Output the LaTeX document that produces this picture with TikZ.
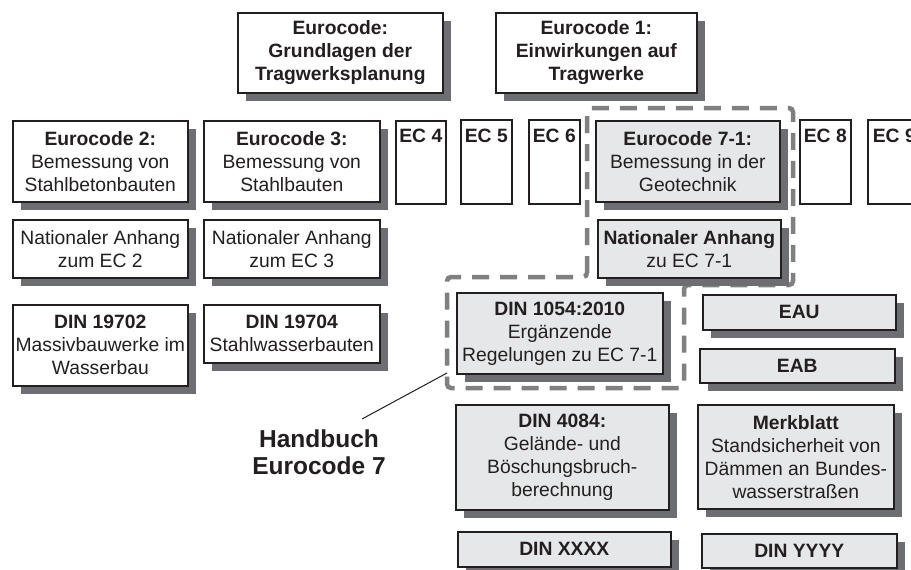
\documentclass[tikz,border=0pt]{standalone}
\usepackage{fontspec}
\setmainfont{Liberation Sans}
\usetikzlibrary{shadows}
\definecolor{shd}{HTML}{6D6E71}
\definecolor{lgray}{HTML}{E6E7E8}
\definecolor{dgray}{HTML}{808080}
\definecolor{ink}{HTML}{231F20}
\tikzset{
 box/.style={draw=ink, text=ink, line width=1.6pt, fill=white, align=center, inner sep=0pt,
   font=\fontsize{19.3}{23}\selectfont},
 sbox/.style={box, general shadow={fill=shd, shadow xshift=8pt, shadow yshift=-8pt}},
 gbox/.style={sbox, fill=lgray},
 dashbox/.style={draw=dgray, line width=4.5pt, dash pattern=on 17pt off 11pt, rounded corners=4pt},
 lead/.style={draw=ink, line width=1pt},
 hbtext/.style={text=ink, align=center, font=\fontsize{24.5}{27}\selectfont\bfseries},
}
\newcommand\ebox[7]{\node[#1, anchor=north west, minimum width={(#5-#3)*1pt}, minimum height={(#6-#4)*1pt}] (#2) at (#3,#4) {#7};}
\begin{document}
\begin{tikzpicture}[x=1pt,y=-1pt]
\useasboundingbox (0,0) rectangle (911,570);
\clip (0,0) rectangle (911,570);
% dashed frame
\draw[dashbox] (587,277) -- (587,108) -- (793,108) -- (793,285) -- (684,285) -- (684,388) -- (447,388) -- (447,277) -- cycle;
% top row
\ebox{sbox}{g0}{237}{12}{442}{92}{\textbf{Eurocode:}\\\textbf{Grundlagen der}\\\textbf{Tragwerksplanung}}
\ebox{sbox}{e1}{495}{12}{696}{92}{\textbf{Eurocode 1:}\\\textbf{Einwirkungen auf}\\\textbf{Tragwerke}}
% eurocode row
\ebox{sbox}{e2}{12}{120}{187}{201}{\textbf{Eurocode 2:}\\Bemessung von\\Stahlbetonbauten}
\ebox{sbox}{e3}{203}{120}{379}{201}{\textbf{Eurocode 3:}\\Bemessung von\\Stahlbauten}
\ebox{box}{ec4}{395}{120}{445}{203}{\textbf{EC 4}\\\strut\\\strut}
\ebox{box}{ec5}{460}{119}{511}{203}{\textbf{EC 5}\\\strut\\\strut}
\ebox{box}{ec6}{528}{119}{579}{203}{\textbf{EC 6}\\\strut\\\strut}
\ebox{gbox}{e7}{595}{120}{779}{201}{\textbf{Eurocode 7-1:}\\Bemessung in der\\Geotechnik}
\ebox{box}{ec8}{799}{119}{850}{203}{\textbf{EC 8}\\\strut\\\strut}
\ebox{box}{ec9}{867}{119}{920}{203}{\textbf{EC 9}\\\strut\\\strut}
% national annexes
\ebox{sbox}{na2}{12}{219}{187}{277}{Nationaler Anhang\\zum EC 2}
\ebox{sbox}{na3}{203}{219}{379}{277}{Nationaler Anhang\\zum EC 3}
\ebox{gbox}{na7}{597}{219}{780}{277}{\textbf{Nationaler Anhang}\\zu EC 7-1}
% DIN
\ebox{sbox}{d19702}{12}{304}{187}{385}{\textbf{DIN 19702}\\Massivbauwerke im\\Wasserbau}
\ebox{sbox}{d19704}{203}{304}{379}{362}{\textbf{DIN 19704}\\Stahlwasserbauten}
\ebox{gbox}{d1054}{456}{292}{662}{373}{\textbf{DIN 1054:2010}\\Ergänzende\\Regelungen zu EC 7-1}
\ebox{gbox}{eau}{702}{294}{895}{329}{\textbf{EAU}}
\ebox{gbox}{eab}{699}{348}{894}{382}{\textbf{EAB}}
\ebox{gbox}{d4084}{455}{404}{668}{509}{\textbf{DIN 4084:}\\Gelände- und\\Böschungsbruch-\\berechnung}
\ebox{gbox}{merk}{697}{404}{893}{508}{\textbf{Merkblatt}\\Standsicherheit von\\Dämmen an Bundes-\\wasserstraßen}
\ebox{gbox}{dx}{457}{531}{670}{566}{\textbf{DIN XXXX}}
\ebox{gbox}{dy}{701}{533}{896}{567}{\textbf{DIN YYYY}}
% Handbuch label
\node[hbtext] (hb) at (319,452) {Handbuch\\Eurocode 7};
\coordinate (hbtip) at (362,419);
\coordinate (hbend) at (447,373);
\draw[lead] (hbtip) -- (hbend);
\end{tikzpicture}
\end{document}
